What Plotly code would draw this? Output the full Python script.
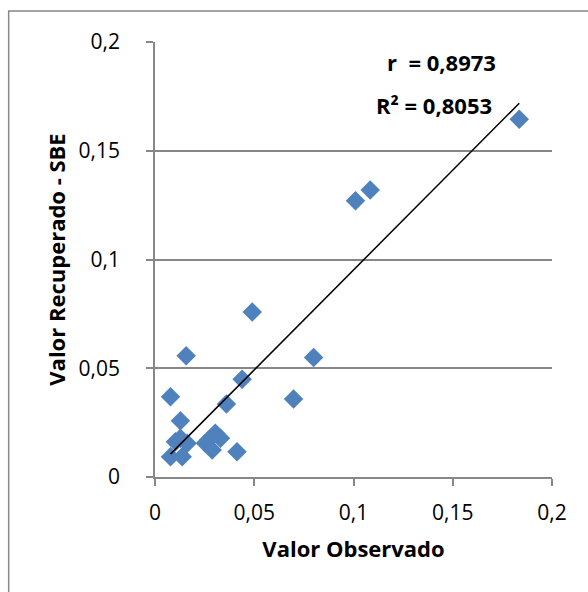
import numpy as np
import plotly.graph_objects as go

observado = [0.0157, 0.0799, 0.0439, 0.0078, 0.0698, 0.0360, 0.0128, 0.0490,
             0.1010, 0.1084, 0.1835, 0.0413,
             0.0078, 0.0137, 0.0103, 0.0162, 0.0128,
             0.0304, 0.0330, 0.0254, 0.0288, 0.0270]
recuperado = [0.0558, 0.0550, 0.0450, 0.0369, 0.0359, 0.0336, 0.0259, 0.0759,
              0.1270, 0.1320, 0.1645, 0.0116,
              0.0093, 0.0093, 0.0162, 0.0155, 0.0178,
              0.0201, 0.0178, 0.0155, 0.0124, 0.0170]

tick_vals = [0, 0.05, 0.1, 0.15, 0.2]
tick_text = ["0", "0,05", "0,1", "0,15", "0,2"]
r_text = "r  = 0,8973"
r2_text = "R² = 0,8053"

x = np.array(observado)
y = np.array(recuperado)
slope, intercept = np.polyfit(x, y, 1)
xl = np.array([x.min(), x.max()])
yl = slope * xl + intercept

FONT = "Open Sans"
GRAY = "#878787"

fig = go.Figure()
fig.add_trace(go.Scatter(
    x=observado, y=recuperado, mode="markers",
    marker=dict(symbol="diamond", size=15, color="#4F81BD", line=dict(width=0)),
    showlegend=False, cliponaxis=False))
fig.add_trace(go.Scatter(
    x=xl, y=yl, mode="lines", line=dict(color="black", width=1.5),
    showlegend=False))

fig.update_layout(
    width=588, height=592,
    margin=dict(l=154.5, r=36, t=42, b=115),
    paper_bgcolor="white", plot_bgcolor="white",
    font=dict(family=FONT, size=21, color="black"),
    xaxis=dict(range=[0, 0.2], tickvals=tick_vals, ticktext=tick_text,
               showgrid=False, zeroline=False, showline=True,
               linecolor=GRAY, linewidth=1.5, ticks="outside", ticklen=7,
               tickcolor=GRAY, tickwidth=1.5, ticklabelstandoff=9,
               tickfont=dict(size=21),
               title=dict(text="<b>Valor Observado</b>", standoff=17,
                          font=dict(size=22))),
    yaxis=dict(range=[0, 0.2], tickvals=tick_vals, ticktext=tick_text,
               showgrid=True, gridcolor=GRAY, gridwidth=1.5, zeroline=False,
               showline=True, linecolor=GRAY, linewidth=1.5,
               ticks="outside", ticklen=7, tickcolor=GRAY, tickwidth=1.5,
               ticklabelstandoff=22, tickfont=dict(size=21),
               title=dict(text="<b>Valor Recuperado - SBE</b>", standoff=7,
                          font=dict(size=22))),
    shapes=[dict(type="rect", xref="paper", yref="paper",
                 x0=-0.3686, x1=1.3, y0=-0.4, y1=1.0713,
                 line=dict(color=GRAY, width=1.5), layer="below")],
    annotations=[
        dict(text="<b>" + r_text + "</b>", xref="paper", yref="paper",
             x=0.721, y=0.954, xanchor="center", yanchor="middle",
             showarrow=False, font=dict(size=22)),
        dict(text="<b>" + r2_text + "</b>", xref="paper", yref="paper",
             x=0.703, y=0.855, xanchor="center", yanchor="middle",
             showarrow=False, font=dict(size=22)),
    ],
)

fig.write_html("out.html")
